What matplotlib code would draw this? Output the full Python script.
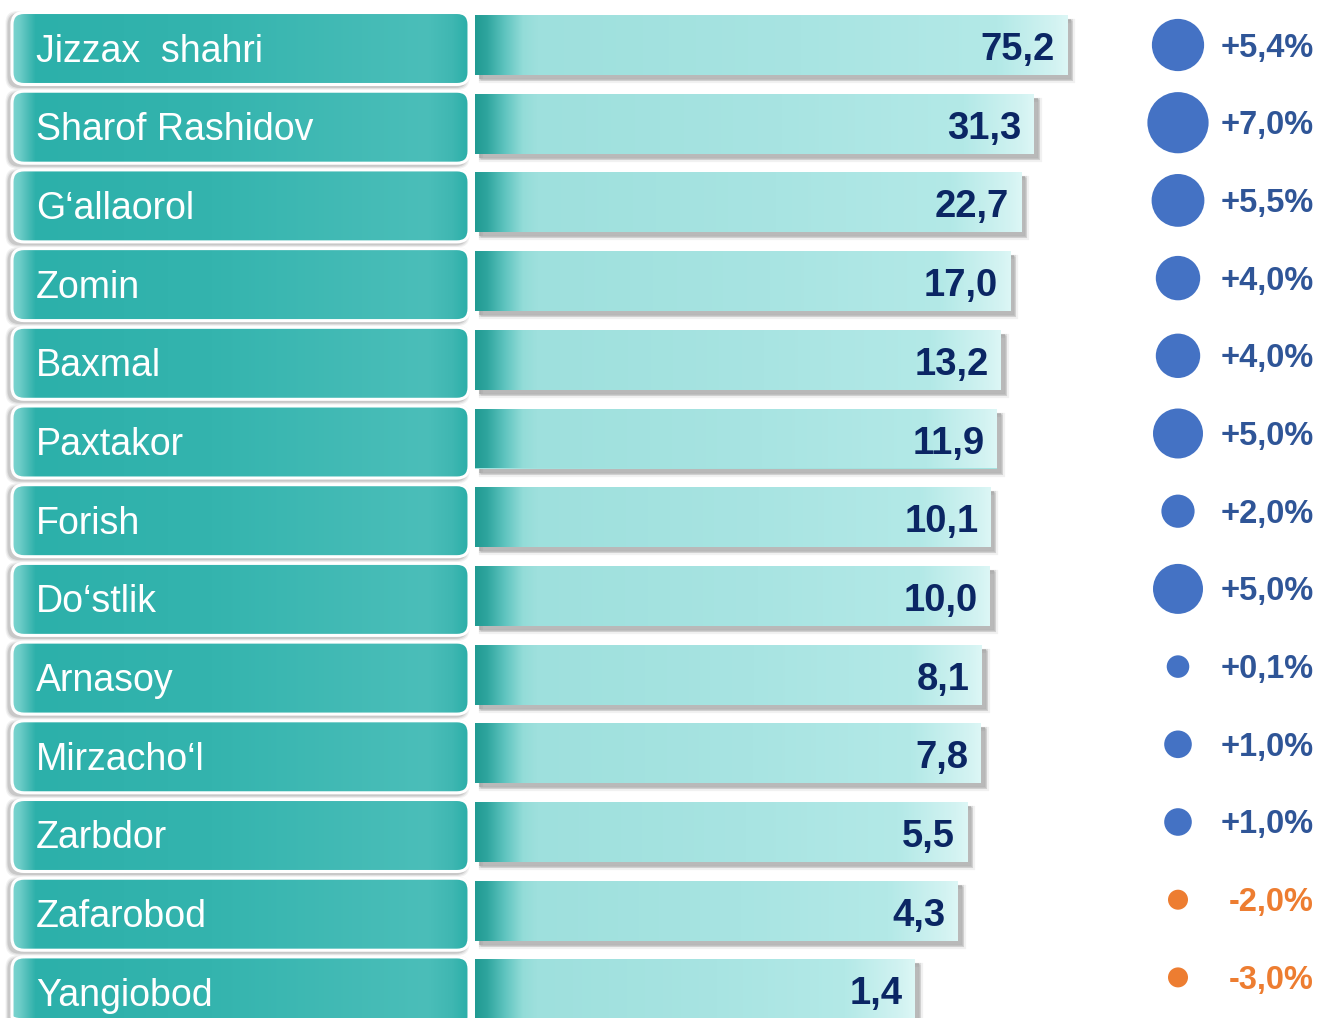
import numpy as np
import matplotlib
matplotlib.use("Agg")
import matplotlib.pyplot as plt
from matplotlib.patches import FancyBboxPatch, Circle, Rectangle
from matplotlib.colors import to_rgb
from matplotlib.transforms import Affine2D, BboxTransformTo, TransformedBbox, Bbox

plt.rcParams["font.family"] = ["Liberation Sans", "DejaVu Sans"]

# ---- data -------------------------------------------------------------
districts = ["Jizzax  shahri", "Sharof Rashidov", "G\u2018allaorol", "Zomin",
             "Baxmal", "Paxtakor", "Forish", "Do\u2018stlik", "Arnasoy",
             "Mirzacho\u2018l", "Zarbdor", "Zafarobod", "Yangiobod"]
values = [75.2, 31.3, 22.7, 17.0, 13.2, 11.9, 10.1, 10.0, 8.1, 7.8, 5.5, 4.3, 1.4]
growth = [5.4, 7.0, 5.5, 4.0, 4.0, 5.0, 2.0, 5.0, 0.1, 1.0, 1.0, -2.0, -3.0]

# ---- layout (pixels) --------------------------------------------------
W, H = 1319, 1018
PITCH = 78.7
BOX_Y0 = 48.5          # centre of first label box
BAR_Y0 = 45.0          # centre of first bar
PCT_Y0, PCT_PITCH = 45.0, 77.7
BOX_X0, BOX_X1 = 12, 469
BAR_X0, BAR_AX_X1 = 475, 1100
PX_PER_DECADE = 88.0
BAR_OFFSET_PX = 427.0  # pixel length of a bar of value 1

NAVY = "#0b2664"
BLUE_TXT = "#2f5597"
BLUE_DOT = "#4472c4"
ORANGE = "#ed7d31"


def hgrad(stops, n):
    """Horizontal RGB gradient image of n columns from (pixel, colour) stops."""
    xs = np.array([s[0] for s in stops], float)
    cols = np.array([to_rgb(s[1]) for s in stops])
    t = np.arange(n) + 0.5
    img = np.stack([np.interp(t, xs, cols[:, k]) for k in range(3)], axis=-1)
    return img[np.newaxis, :, :]


fig = plt.figure(figsize=(W / 100, H / 100), dpi=100)
fig.patch.set_facecolor("white")

# background axes in pixel units
ax = fig.add_axes([0, 0, 1, 1])
ax.set_xlim(0, W)
ax.set_ylim(H, 0)
ax.axis("off")
ax.set_autoscale_on(False)

n = len(districts)

# ---- label boxes ------------------------------------------------------
box_w = BOX_X1 - BOX_X0
box_h = 72
box_stops = [(0, "#7dd5d0"), (8, "#6dcdc8"), (17, "#48bbb5"), (24, "#2cb0aa"),
             (200, "#34b4ae"), (415, "#4bbeb9"), (440, "#3fb7b2"), (box_w, "#2aaea8")]
box_img = hgrad(box_stops, box_w)
for i, name in enumerate(districts):
    yc = BOX_Y0 + PITCH * i
    y0 = yc - box_h / 2
    # soft grey shadow
    for grow, a in [(7, 0.10), (5, 0.15), (3, 0.25)]:
        sh = FancyBboxPatch((BOX_X0 - 3 - grow / 2, y0 + 2 - grow / 2),
                            box_w + grow, box_h + grow,
                            boxstyle="round,pad=0,rounding_size=12",
                            fc="#808080", ec="none", alpha=a, zorder=1)
        ax.add_patch(sh)
    frame = FancyBboxPatch((BOX_X0, y0), box_w, box_h,
                           boxstyle="round,pad=0,rounding_size=12",
                           fc="none", ec="white", lw=2.2, zorder=3)
    ax.add_patch(frame)
    im = ax.imshow(box_img, extent=(BOX_X0, BOX_X1, y0 + box_h, y0),
                   aspect="auto", interpolation="bilinear", zorder=2.5)
    im.set_clip_path(frame)
    ax.text(BOX_X0 + 24, yc + 13, name, color="white", fontsize=27,
            ha="left", va="baseline", zorder=4)

# ---- bars on a logarithmic value axis ---------------------------------
axb = fig.add_axes([BAR_X0 / W, 0, (BAR_AX_X1 - BAR_X0) / W, 1])
axb.set_xscale("log")
x_lo = 10 ** (-BAR_OFFSET_PX / PX_PER_DECADE)
x_hi = 10 ** ((BAR_AX_X1 - BAR_X0 - BAR_OFFSET_PX) / PX_PER_DECADE)
axb.set_xlim(x_lo, x_hi)
axb.set_ylim((H - BAR_Y0) / PITCH, -BAR_Y0 / PITCH)
axb.set_autoscale_on(False)
axb.patch.set_alpha(0)
axb.axis("off")

ypos = np.arange(n)
bar_h = 60 / PITCH
bars = axb.barh(ypos, [v - x_lo for v in values], left=x_lo, height=bar_h,
                color="#a3e2df", edgecolor="none", zorder=3)

for rect, v, i in zip(bars, values, ypos):
    # drop shadow to the lower right
    for dx, dy, grow, a in [(6, -6, 3, 0.10), (5, -5, 1.5, 0.18), (4, -4, 0, 0.35)]:
        sh = Rectangle(rect.get_xy(), rect.get_width(), rect.get_height(),
                       transform=axb.transData + Affine2D().translate(dx, dy),
                       fc="#7a7a7a", ec="#7a7a7a", lw=grow, alpha=a, zorder=2)
        axb.add_patch(sh)
    # gradient fill mapped onto the bar rectangle
    disp = TransformedBbox(Bbox.from_bounds(*rect.get_xy(), rect.get_width(),
                                            rect.get_height()), axb.transData)
    L = int(round(abs(disp.width)))
    stops = [(0, "#219a92"), (12, "#2ea59e"), (30, "#5fc4bf"), (48, "#93dcd8"),
             (62, "#9ee0dd"), (L * 0.55, "#a8e4e2"), (L - 70, "#b3e9e7"),
             (L - 12, "#d3f3f2"), (L, "#ddf7f6")]
    gimg = hgrad(stops, L)
    gim = axb.imshow(gimg, extent=(0, 1, 0, 1), origin="lower", aspect="auto",
                     interpolation="bilinear",
                     transform=BboxTransformTo(disp), zorder=3.5)
    gim.set_clip_path(rect)
    axb.annotate(f"{v:.1f}".replace(".", ","), xy=(v, i), xytext=(-12, -15),
                 textcoords="offset pixels", ha="right", va="baseline",
                 fontsize=27.5, fontweight="bold", color=NAVY, zorder=5)

# ---- growth markers ---------------------------------------------------
for i, g in enumerate(growth):
    yc = PCT_Y0 + PCT_PITCH * i
    col = BLUE_DOT if g >= 0 else ORANGE
    tcol = BLUE_TXT if g >= 0 else ORANGE
    diam = 22 + 5.6 * g if g > 0 else 20.0
    ax.add_patch(Circle((1178, yc), diam / 2, fc=col, ec="none", zorder=3))
    ax.text(1314, yc + 11.5, f"{g:+.1f}%".replace(".", ","), color=tcol,
            fontsize=23.5, fontweight="bold", ha="right", va="baseline", zorder=4)

fig.savefig("out.png", dpi=100, facecolor="white")
